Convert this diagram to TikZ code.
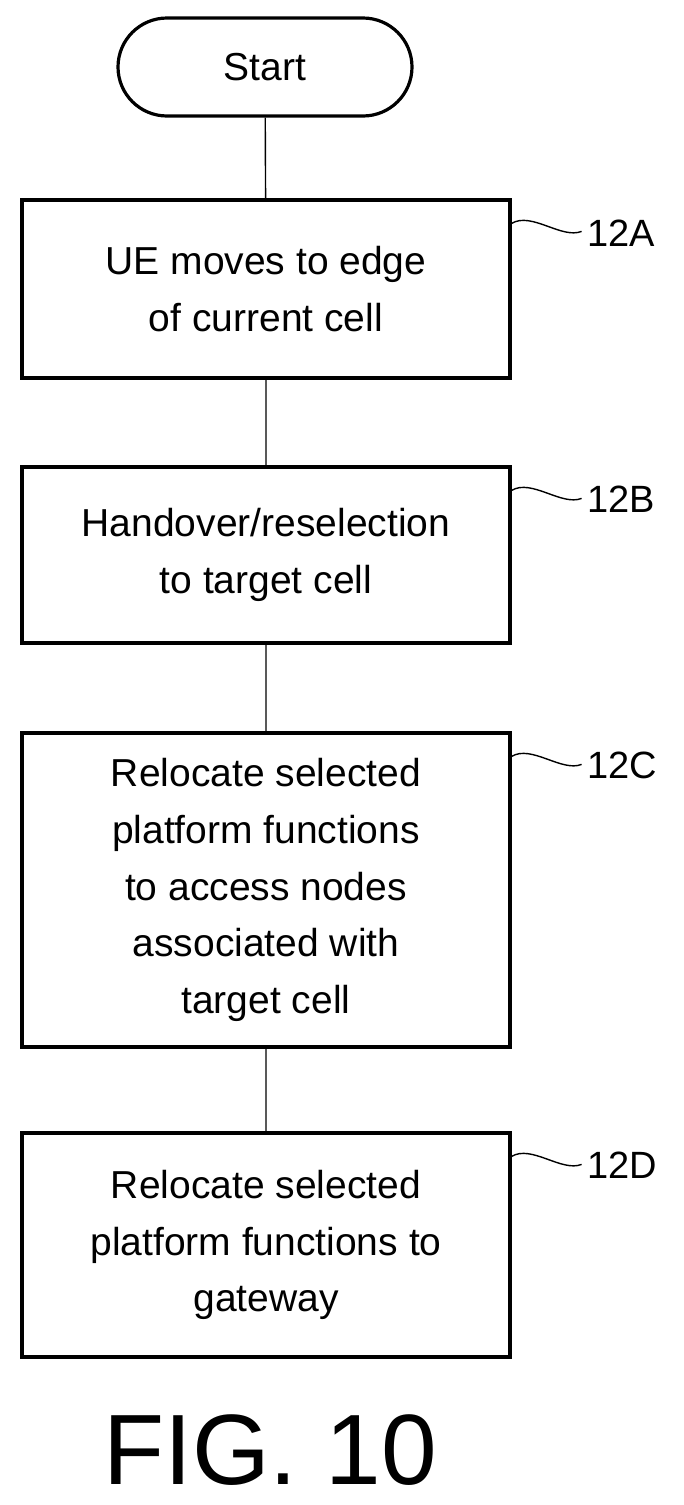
\documentclass[tikz,border=0pt]{standalone}
\usepackage{fontspec}
\setmainfont{Liberation Sans}
\usetikzlibrary{shapes.misc}
\begin{document}
\begin{tikzpicture}[x=0.5pt,y=-0.5pt,
  box/.style={draw,line width=1.6pt,align=center,font=\fontsize{19.5}{28.3}\selectfont,inner sep=0pt},
  lbl/.style={font=\fontsize{19}{20}\selectfont},
  sq/.style={line width=0.7pt}]
\useasboundingbox (0,0) rectangle (684,1505);
\node[box,rounded rectangle,minimum width=147pt,minimum height=49pt] (s) at (265,67) {Start};
\node[box,minimum width=244pt,minimum height=89pt] (a) at (266,289) {UE moves to edge\\of current cell};
\node[box,minimum width=244pt,minimum height=88pt] (b) at (266,555) {Handover/reselection\\to target cell};
\node[box,minimum width=244pt,minimum height=157pt] (c) at (266,890) {Relocate selected\\platform functions\\to access nodes\\associated with\\target cell};
\node[box,minimum width=244pt,minimum height=112pt] (d) at (266,1245) {Relocate selected\\platform functions to\\gateway};
\draw[line width=0.7pt] (s) -- (a) (a) -- (b) (b) -- (c) (c) -- (d);
\foreach \n/\y/\t in {a/225/12A,b/491/12B,c/757/12C,d/1157/12D}{
  \node[lbl,anchor=west] (l\n) at (580,\y+8) {\t};
  \draw[sq] (\n.north east) ++(0,25) .. controls +(20,-12) and +(-20,8) .. ++(70,8);
}
\node[font=\fontsize{50}{54}\selectfont] (f) at (270,1450) {FIG. 10};
\end{tikzpicture}
\end{document}
